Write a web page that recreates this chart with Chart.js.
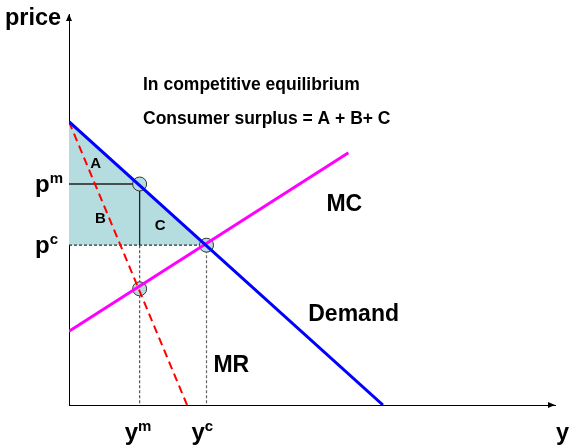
<!DOCTYPE html>
<html>
<head>
<meta charset="utf-8">
<script src="https://cdn.jsdelivr.net/npm/chart.js@4/dist/chart.umd.min.js"></script>
<style>
  html, body { margin: 0; padding: 0; background: #fff; }
  #wrap { width: 574px; height: 447px; position: relative; }
</style>
</head>
<body>
<div id="wrap"><canvas id="c" width="574" height="447"></canvas></div>
<script>
// ---- data (quantity, price) ----
const demand = [{x: 0, y: 10}, {x: 10, y: 0}];
const mc = [{x: 0, y: 2.6}, {x: 8.9, y: 8.9}];
const mr = [{x: 0, y: 10}, {x: 3.76, y: 0}];
const qm = 2.25, pm = 7.8;     // monopoly quantity / price
const qc = 4.38, pc = 5.64;    // competitive quantity / price
const mrAtQm = 4.1;
const surplusEdge = [{x: 0, y: 10}, {x: qc, y: pc}];
const pmGuide = [{x: 0, y: pm}, {x: qm, y: pm}, {x: qm, y: pc}];
const pcGuide = [{x: 0, y: pc}, {x: qc, y: pc}];
const qmDrop = [{x: qm, y: pc}, {x: qm, y: 0}];
const qcDrop = [{x: qc, y: pc}, {x: qc, y: 0}];
const keyPoints = [{x: qm, y: pm}, {x: qc, y: pc}, {x: qm, y: mrAtQm}];
const yTickLabels = [{base: 'p', sup: 'm', value: pm}, {base: 'p', sup: 'c', value: pc}];
const xTickLabels = [{base: 'y', sup: 'm', value: qm}, {base: 'y', sup: 'c', value: qc}];
const areaLabels = [{t: 'A', x: 0.85, y: 8.55}, {t: 'B', x: 1.0, y: 6.6}, {t: 'C', x: 2.9, y: 6.35}];
const curveLabels = [{t: 'MC', x: 8.2, y: 6.85}, {t: 'Demand', x: 7.62, y: 2.98}, {t: 'MR', x: 4.6, y: 1.18}];
const headLines = ['In competitive equilibrium', 'Consumer surplus = A + B+ C'];

const FONT = '"Liberation Sans", Arial, Helvetica, sans-serif';

const overlay = {
  id: 'overlay',
  afterDraw(chart) {
    const ctx = chart.ctx, xs = chart.scales.x, ys = chart.scales.y;
    const x0 = xs.getPixelForValue(0), y0 = ys.getPixelForValue(0);
    const xEnd = xs.right, yTop = ys.top;
    ctx.save();
    ctx.fillStyle = '#000';
    // arrow heads
    ctx.beginPath();
    ctx.moveTo(x0, yTop); ctx.lineTo(x0 - 3, yTop + 7); ctx.lineTo(x0 + 3, yTop + 7); ctx.closePath(); ctx.fill();
    ctx.beginPath();
    ctx.moveTo(xEnd, y0); ctx.lineTo(xEnd - 7, y0 - 3); ctx.lineTo(xEnd - 7, y0 + 3); ctx.closePath(); ctx.fill();

    ctx.textBaseline = 'alphabetic';
    ctx.textAlign = 'left';
    // axis titles
    ctx.font = 'bold 23.5px ' + FONT;
    ctx.fillText('price', 5, 25);
    ctx.fillText('y', 556, 440);
    // tick-like labels with superscripts
    function supText(base, sup, x, baseline) {
      ctx.font = 'bold 24px ' + FONT;
      ctx.fillText(base, x, baseline);
      const w = ctx.measureText(base).width;
      ctx.font = 'bold 15px ' + FONT;
      ctx.fillText(sup, x + w, baseline - 9);
    }
    yTickLabels.forEach(l => supText(l.base, l.sup, 35, ys.getPixelForValue(l.value) + 8));
    xTickLabels.forEach(l => supText(l.base, l.sup, xs.getPixelForValue(l.value) - 15, 440));
    // area labels
    ctx.font = 'bold 15px ' + FONT;
    ctx.textAlign = 'center';
    areaLabels.forEach(l => ctx.fillText(l.t, xs.getPixelForValue(l.x), ys.getPixelForValue(l.y) + 5));
    // curve labels
    ctx.font = 'bold 23px ' + FONT;
    ctx.textAlign = 'left';
    curveLabels.forEach(l => ctx.fillText(l.t, xs.getPixelForValue(l.x), ys.getPixelForValue(l.y)));
    // headline
    ctx.font = 'bold 17.5px ' + FONT;
    ctx.fillText(headLines[0], 143, 90);
    ctx.fillText(headLines[1], 143, 124);
    ctx.restore();
  }
};

const line = (data, color, width, dash, order, extra) => Object.assign({
  data, borderColor: color, borderWidth: width, borderDash: dash || [],
  pointRadius: 0, showLine: true, fill: false, tension: 0, order
}, extra || {});

new Chart(document.getElementById('c'), {
  type: 'scatter',
  data: {
    datasets: [
      line(surplusEdge, 'rgba(0,0,0,0)', 0, null, 20, {fill: {target: {value: pc}}, backgroundColor: '#b5dde0'}),
      line(pmGuide, '#222', 1.3, null, 12),
      line(pcGuide, '#333', 1.2, [3, 2], 13),
      line(qmDrop, '#555', 1.2, [3, 2], 14),
      line(qcDrop, '#666', 1.2, [3, 2], 15),
      {data: keyPoints, pointRadius: 7, pointBackgroundColor: '#b5dde0', pointBorderColor: '#333', pointBorderWidth: 1, showLine: false, order: 10},
      line(mc, '#ff00ff', 3, null, 5),
      line(mr, '#ff0000', 2, [8, 5], 4),
      line(demand, '#0000ff', 3, null, 3)
    ]
  },
  options: {
    responsive: false,
    animation: false,
    events: [],
    layout: {padding: {left: 69, right: 19, top: 14, bottom: 42}},
    plugins: {legend: {display: false}, tooltip: {enabled: false}},
    scales: {
      x: {type: 'linear', min: 0, max: 15.48, grid: {display: false, drawTicks: false},
          border: {display: true, color: '#000', width: 1}, ticks: {display: false}},
      y: {type: 'linear', min: 0, max: 13.8, grid: {display: false, drawTicks: false},
          border: {display: true, color: '#000', width: 1}, ticks: {display: false}}
    }
  },
  plugins: [overlay]
});
</script>
</body>
</html>
